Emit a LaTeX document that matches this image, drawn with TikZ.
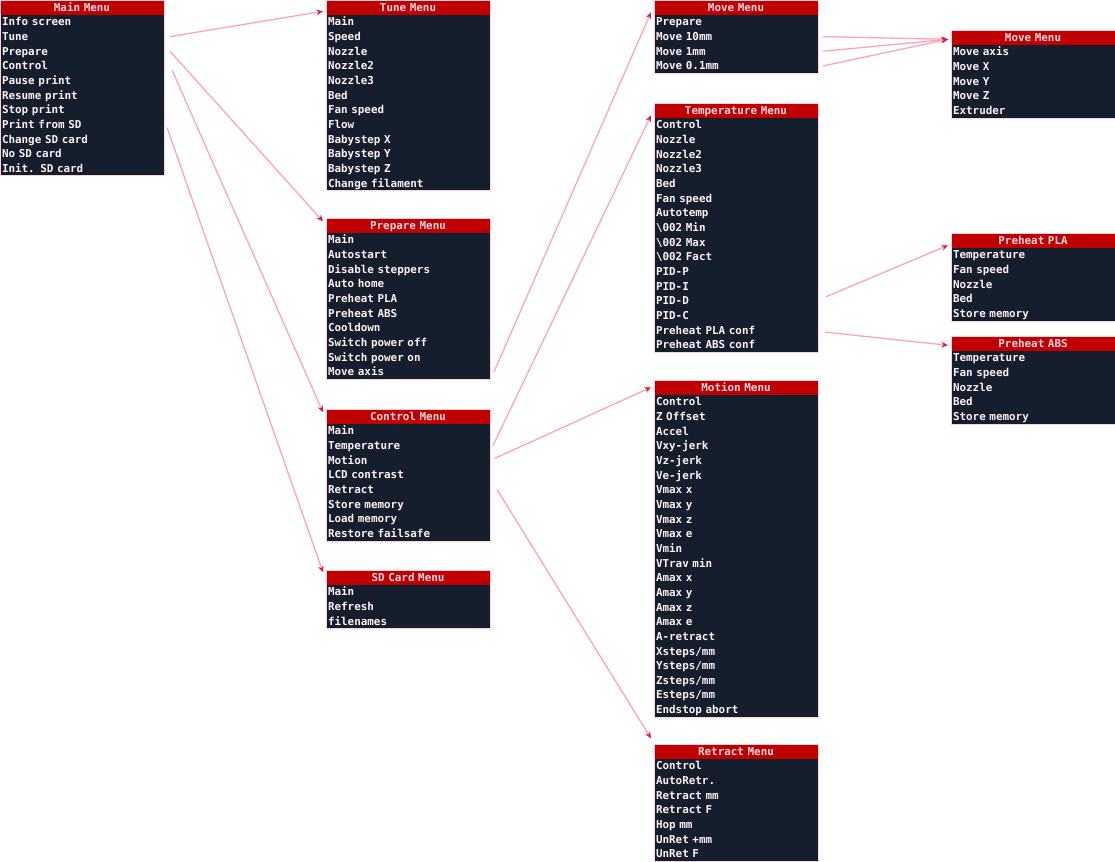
\documentclass[tikz,border=0pt]{standalone}
\usepackage{fontspec}
\setmonofont{DejaVu Sans Mono}[WordSpace={1,0,0}]
\usetikzlibrary{arrows.meta, positioning}
\definecolor{menured}{HTML}{C00000}
\definecolor{menunavy}{HTML}{141E2D}
\definecolor{menuink}{HTML}{FFF0F5}
\definecolor{headink}{HTML}{FFD6E2}
\definecolor{menuedge}{HTML}{FFD0DC}
\definecolor{linkpink}{HTML}{FFA3BA}
\definecolor{tipred}{HTML}{F0103C}
\tikzset{
  menurow/.style={fill=menunavy, text=menuink, minimum width=164pt,
    text width=160pt, inner xsep=2pt, inner ysep=0pt, minimum height=14.65pt,
    text height=9.2pt, text depth=1.2pt, align=left, outer sep=0pt},
  menuhead/.style={menurow, fill=menured, text=headink, align=center},
  link/.style={linkpink, line width=1.3pt,
    -{Stealth[length=6.5pt, width=5.5pt, color=tipred]}},
}
\newcommand{\menubox}[4]{%
  \node[menuhead, anchor=north west] (#1-0) at (#2) {#3};
  \foreach \txt [count=\i, remember=\i as \j (initially 0)] in {#4}{
    \node[menurow, below=0pt of #1-\j] (#1-\i) {\txt};
    \xdef\menulast{\i}}
  \draw[menuedge, line width=0.6pt]
    (#1-0.north west) rectangle (#1-\menulast.south east);
}

\begin{document}
\begin{tikzpicture}[x=1pt, y=-1pt, font=\ttfamily\bfseries\fontsize{10.9pt}{12pt}\selectfont]
  \useasboundingbox (0,0) rectangle (1115,861);

  \menubox{main}{0,0}{Main Menu}{Info screen, Tune, Prepare, Control,
    Pause print, Resume print, Stop print, Print from SD, Change SD card,
    No SD card, Init. SD card}
  \menubox{tune}{326,0}{Tune Menu}{Main, Speed, Nozzle, Nozzle2, Nozzle3,
    Bed, Fan speed, Flow, Babystep X, Babystep Y, Babystep Z, Change filament}
  \menubox{prep}{326,218}{Prepare Menu}{Main, Autostart, Disable steppers,
    Auto home, Preheat PLA, Preheat ABS, Cooldown, Switch power off,
    Switch power on, Move axis}
  \menubox{ctrl}{326,409}{Control Menu}{Main, Temperature, Motion,
    LCD contrast, Retract, Store memory, Load memory, Restore failsafe}
  \menubox{sd}{326,570}{SD Card Menu}{Main, Refresh, filenames}
  \menubox{move}{654,0}{Move Menu}{Prepare, Move 10mm, Move 1mm, Move 0.1mm}
  \menubox{temp}{654,103}{Temperature Menu}{Control, Nozzle, Nozzle2, Nozzle3,
    Bed, Fan speed, Autotemp, \textbackslash 002 Min, \textbackslash 002 Max,
    \textbackslash 002 Fact, PID-P, PID-I, PID-D, PID-C, Preheat PLA conf,
    Preheat ABS conf}
  \menubox{motion}{654,380}{Motion Menu}{Control, Z Offset, Accel, Vxy-jerk,
    Vz-jerk, Ve-jerk, Vmax x, Vmax y, Vmax z, Vmax e, Vmin, VTrav min,
    Amax x, Amax y, Amax z, Amax e, A-retract, Xsteps/mm, Ysteps/mm,
    Zsteps/mm, Esteps/mm, Endstop abort}
  \menubox{retr}{654,744}{Retract Menu}{Control, AutoRetr., Retract mm,
    Retract F, Hop mm, UnRet +mm, UnRet F}
  \menubox{axis}{951,30}{Move Menu}{Move axis, Move X, Move Y, Move Z, Extruder}
  \menubox{pla}{951,233}{Preheat PLA}{Temperature, Fan speed, Nozzle, Bed,
    Store memory}
  \menubox{abs}{951,336}{Preheat ABS}{Temperature, Fan speed, Nozzle, Bed,
    Store memory}

  \draw[link] ([xshift=6pt]main-2.east) -- ([xshift=-3pt, yshift=-4pt]tune-0.west);
  \draw[link] ([xshift=6pt]main-3.east) -- ([xshift=-3pt, yshift=4pt]prep-0.west);
  \draw[link] ([xshift=8pt, yshift=-4pt]main-4.east) -- ([xshift=-3pt, yshift=4pt]ctrl-0.west);
  \draw[link] ([xshift=3pt, yshift=-3pt]main-8.east) -- ([xshift=-3pt, yshift=5pt]sd-0.west);
  \draw[link] ([xshift=4pt]prep-10.east) -- ([xshift=-3pt, yshift=-5pt]move-0.west);
  \draw[link] ([xshift=3pt]ctrl-2.east) -- ([xshift=-3pt, yshift=-5pt]temp-0.west);
  \draw[link] ([xshift=5pt, yshift=2pt]ctrl-3.east) -- ([xshift=-3pt]motion-0.west);
  \draw[link] ([xshift=7pt]ctrl-5.east) -- ([xshift=-3pt, yshift=13pt]retr-0.west);
  \foreach \k in {2,3,4}
    \draw[link] ([xshift=5pt]move-\k.east) -- ([xshift=-3pt, yshift=-2pt]axis-0.west);
  \draw[link] ([xshift=8pt, yshift=4pt]temp-13.east) -- ([xshift=-3pt, yshift=-5pt]pla-0.west);
  \draw[link] ([xshift=7pt, yshift=-2pt]temp-15.east) -- ([xshift=-3pt, yshift=-2pt]abs-0.west);
\end{tikzpicture}
\end{document}
